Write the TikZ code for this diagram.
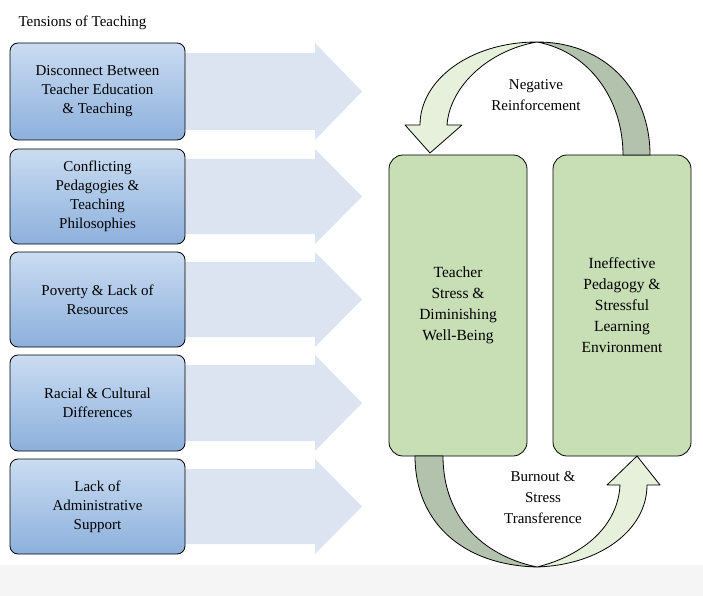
\documentclass[tikz,border=0pt]{standalone}
\usepackage{fontspec}
\setmainfont{Liberation Serif}
\definecolor{btop}{HTML}{CADCF1}
\definecolor{bbot}{HTML}{8CB0DC}
\definecolor{gfill}{HTML}{C8DFB6}
\definecolor{afill}{HTML}{DCE4F1}
\definecolor{lgreen}{HTML}{E6F0DA}
\definecolor{dgreen}{HTML}{B3C2AC}
\begin{document}
\begin{tikzpicture}[x=1pt,y=-1pt,
 lbox/.style={draw=black,line width=0.8pt,rounded corners=8pt,top color=btop,bottom color=bbot,minimum width=175pt,align=center,font=\fontsize{15}{19}\selectfont},
 gbox/.style={draw=black,line width=0.8pt,rounded corners=14pt,fill=gfill,minimum width=138pt,minimum height=301pt,align=center,font=\fontsize{15.5}{21}\selectfont},
 bigarrow/.style={fill=afill},
 txt/.style={align=center,font=\fontsize{15}{21}\selectfont}]
\useasboundingbox (0,0) rectangle (703,596);
\fill[gray!8] (0,565) rectangle (703,596);
\node[anchor=west,txt] (title) at (15,23) {Tensions of Teaching};
% big arrows
\foreach \t/\b in {43/140,149/244,252/347,355/451,459/554}{
 \pgfmathsetmacro{\m}{(\t+\b)/2}
 \fill[bigarrow] (150,\t+10) -- (315,\t+10) -- (315,\t) -- (362,\m) -- (315,\b) -- (315,\b-10) -- (150,\b-10) -- cycle;
}
\node[lbox,minimum height=97pt] (b1) at (97.5,91.5) {Disconnect Between\\Teacher Education\\\& Teaching};
\node[lbox,minimum height=95pt] (b2) at (97.5,196.5) {Conflicting\\Pedagogies \&\\Teaching\\Philosophies};
\node[lbox,minimum height=95pt] (b3) at (97.5,299.5) {Poverty \& Lack of\\Resources};
\node[lbox,minimum height=96pt] (b4) at (97.5,403) {Racial \& Cultural\\Differences};
\node[lbox,minimum height=95pt] (b5) at (97.5,506.5) {Lack of\\Administrative\\Support};
\node[gbox] (g1) at (458,305.5) {Teacher\\Stress \&\\Diminishing\\Well-Being};
\node[gbox] (g2) at (622,305.5) {Ineffective\\Pedagogy \&\\Stressful\\Learning\\Environment};
% top curved arrow
\draw[fill=lgreen,line width=0.8pt,line join=round] (537,42) .. controls (470,42) and (420,80) .. (420,125) -- (405,125) -- (430,153) -- (462,125) -- (447,125) .. controls (450,85) and (490,50) .. (537,42) -- cycle;
\draw[fill=dgreen,line width=0.8pt,line join=round] (537,42) .. controls (605,42) and (650,90) .. (650,155) -- (623,155) .. controls (623,100) and (590,52) .. (537,42) -- cycle;
\node[txt] (neg) at (536,95) {Negative\\Reinforcement};
% bottom curved arrow
\draw[fill=dgreen,line width=0.8pt,line join=round] (537,567) .. controls (460,565) and (415,520) .. (415,456) -- (443,456) .. controls (443,515) and (480,555) .. (537,567) -- cycle;
\draw[fill=lgreen,line width=0.8pt,line join=round] (537,567) .. controls (600,565) and (647,530) .. (647,485) -- (660,485) -- (637,456) -- (607,485) -- (620,485) .. controls (618,525) and (585,555) .. (537,567) -- cycle;
\node[txt] (burn) at (543,498) {Burnout \&\\Stress\\Transference};
\end{tikzpicture}
\end{document}
